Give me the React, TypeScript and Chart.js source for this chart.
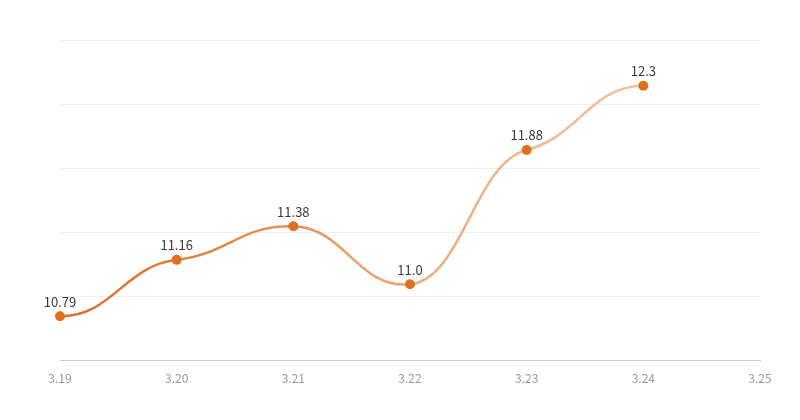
import React, { useEffect, useRef } from "react";
import { Chart, registerables } from "chart.js";

Chart.register(...registerables);

const categories = ["3.19", "3.20", "3.21", "3.22", "3.23", "3.24", "3.25"];
const values: (number | null)[] = [10.79, 11.16, 11.38, 11.0, 11.88, 12.3, null];
const valueLabels = ["10.79", "11.16", "11.38", "11.0", "11.88", "12.3", ""];

const FONT = "'Noto Sans CJK SC', 'Noto Sans', sans-serif";

const labelPlugin = {
  id: "pointLabels",
  afterDatasetsDraw(chart: any) {
    const ctx = chart.ctx;
    const meta = chart.getDatasetMeta(0);
    ctx.save();
    ctx.font = `13px ${FONT}`;
    ctx.fillStyle = "#3a3a3a";
    ctx.textAlign = "center";
    ctx.textBaseline = "bottom";
    meta.data.forEach((pt: any, i: number) => {
      if (values[i] == null) return;
      ctx.fillText(valueLabels[i], pt.x, pt.y - 8);
    });
    ctx.restore();
  },
};

// Smooth curve with gentle (nearly flat) tangents at each point
const smoothPlugin = {
  id: "softSmooth",
  beforeDatasetsDraw(chart: any) {
    const meta = chart.getDatasetMeta(0);
    const line = meta.dataset;
    if (line && line.updateControlPoints) line.updateControlPoints(chart.chartArea, "x");
    const pts = meta.data.filter((p: any, i: number) => values[i] != null);
    const n = pts.length;
    for (let i = 0; i < n; i++) {
      const p = pts[i];
      const prev = pts[i - 1];
      const next = pts[i + 1];
      let m = 0;
      if (prev && next) m = ((next.y - prev.y) / (next.x - prev.x)) * 0.3;
      const hPrev = prev ? (p.x - prev.x) * 0.45 : 0;
      const hNext = next ? (next.x - p.x) * 0.45 : 0;
      p.cp1x = p.x - hPrev;
      p.cp1y = p.y - m * hPrev;
      p.cp2x = p.x + hNext;
      p.cp2y = p.y + m * hNext;
    }
  },
};

export default function App() {
  const ref = useRef<HTMLCanvasElement>(null);
  useEffect(() => {
    if (!ref.current) return;
    const chart = new Chart(ref.current, {
      type: "line",
      data: {
        labels: categories,
        datasets: [
          {
            data: values,
            borderColor: (c: any) => {
              const area = c.chart.chartArea;
              if (!area) return "#e08a4a";
              const g = c.chart.ctx.createLinearGradient(area.left, 0, area.right, 0);
              g.addColorStop(0, "#d96f26");
              g.addColorStop(0.2, "#e0823c");
              g.addColorStop(0.45, "#eba474");
              g.addColorStop(0.7, "#f0bb96");
              g.addColorStop(1, "#f3c8a8");
              return g;
            },
            borderWidth: 2.5,
            tension: 0.4,
            pointRadius: 5,
            pointHoverRadius: 5,
            pointBackgroundColor: "#e0701e",
            pointBorderColor: "#e0701e",
            pointBorderWidth: 0,
            spanGaps: false,
          },
        ],
      },
      options: {
        responsive: false,
        animation: false,
        maintainAspectRatio: false,
        layout: { padding: { left: 60, right: 40, top: 40, bottom: 23 } },
        plugins: { legend: { display: false }, tooltip: { enabled: false } },
        scales: {
          x: {
            offset: false,
            grid: { display: false, drawTicks: false },
            border: { color: "#cccccc", width: 1 },
            ticks: {
              color: "#999",
              font: { family: FONT, size: 12 },
              padding: 11,
              maxRotation: 0,
              autoSkip: false,
            },
          },
          y: {
            min: 10.5,
            max: 12.6,
            afterBuildTicks: (axis: any) => {
              const t = [];
              for (let i = 0; i <= 5; i++) t.push({ value: 10.5 + i * 0.42 });
              axis.ticks = t;
            },
            grid: { color: "#efefef", drawTicks: false },
            border: { display: false },
            ticks: { display: false },
          },
        },
      },
      plugins: [smoothPlugin, labelPlugin],
    });
    return () => chart.destroy();
  }, []);
  return (
    <div style={{ position: "absolute", left: 0, top: 0, width: 800, height: 420, background: "#fff" }}>
      <canvas ref={ref} width={800} height={420} />
    </div>
  );
}
